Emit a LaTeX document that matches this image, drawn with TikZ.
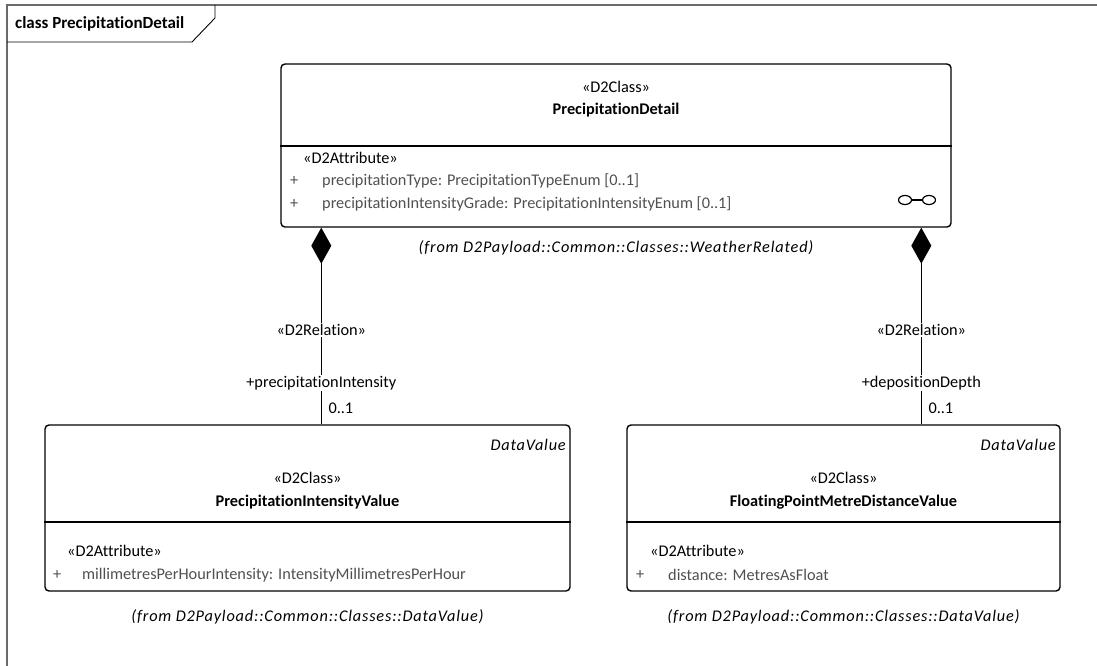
\documentclass[tikz,border=0pt]{standalone}
\usepackage{fontspec}
\setmainfont{Carlito}[Ligatures=NoCommon]
\usetikzlibrary{arrows.meta,calc}
\definecolor{attr}{HTML}{505050}
\definecolor{framec}{HTML}{6A6A6A}
\newcommand{\fs}{\fontsize{16.3}{19}\selectfont}
\tikzset{
  classbox/.style={draw, line width=1.4pt, rounded corners=4pt, inner sep=0pt},
  txt/.style={inner sep=0pt, font=\fs},
  bold/.style={txt, font=\fs\bfseries},
  ital/.style={txt, font=\fs\itshape\addfontfeature{LetterSpace=5}},
  gtxt/.style={txt, text=attr, anchor=west},
  comp/.style={line width=1.3pt, {Diamond[length=36pt,width=20pt]}-},
  lbl/.style={txt, fill=white, inner sep=1.5pt},
}
\begin{document}
\begin{tikzpicture}[x=1pt,y=-1pt]
\useasboundingbox (0,0) rectangle (1097,666);
% frame
\draw[framec, line width=1.8pt] (7,666) -- (7,5) -- (1097,5);
\draw[line width=0.9pt] (7,42) -- (192,42) -- (215,18) -- (215,5);
\node[bold, anchor=west, font=\fontsize{17}{19}\selectfont\bfseries] (ftitle) at (15,24) {class PrecipitationDetail};

% top class
\node[classbox, minimum width=670pt, minimum height=163pt] (pd) at (616,145.5) {};
\draw[line width=1.4pt] (pd.west |- 0,146) -- (pd.east |- 0,146);
\node[txt] (pds) at (616,87) {«D2Class»};
\node[bold] (pdn) at (616,110) {PrecipitationDetail};
\node[txt, anchor=west] (pda) at (303,158) {«D2Attribute»};
\node[gtxt] (pdp1) at (290,181) {+};
\node[gtxt] (pdt1) at (322,181) {precipitationType: PrecipitationTypeEnum [0..1]};
\node[gtxt] (pdp2) at (290,204) {+};
\node[gtxt] (pdt2) at (322,204) {precipitationIntensityGrade: PrecipitationIntensityEnum [0..1]};
\draw[line width=1.2pt] (905,200) ellipse (6.5pt and 4.5pt);
\draw[line width=1.2pt] (929,200) ellipse (6.5pt and 4.5pt);
\draw[line width=1.2pt] (911.5,200) -- (922.5,200);
\node[ital] (pdf) at (616,248) {(from D2Payload::Common::Classes::WeatherRelated)};

% bottom-left class
\node[classbox, minimum width=525pt, minimum height=166pt] (piv) at (307.5,508) {};
\draw[line width=1.4pt] (piv.west |- 0,522) -- (piv.east |- 0,522);
\node[ital, anchor=east] (pivdv) at (566,445) {DataValue};
\node[txt] (pivs) at (307.5,478) {«D2Class»};
\node[bold] (pivn) at (307.5,502) {PrecipitationIntensityValue};
\node[txt, anchor=west] (piva) at (67,551) {«D2Attribute»};
\node[gtxt] (pivp) at (53,575) {+};
\node[gtxt] (pivt) at (82,575) {millimetresPerHourIntensity: IntensityMillimetresPerHour};
\node[ital] (pivf) at (307.5,617) {(from D2Payload::Common::Classes::DataValue)};

% bottom-right class
\node[classbox, minimum width=433pt, minimum height=166pt] (fpm) at (843.5,508) {};
\draw[line width=1.4pt] (fpm.west |- 0,522) -- (fpm.east |- 0,522);
\node[ital, anchor=east] (fpmdv) at (1056,445) {DataValue};
\node[txt] (fpms) at (843.5,478) {«D2Class»};
\node[bold] (fpmn) at (843.5,502) {FloatingPointMetreDistanceValue};
\node[txt, anchor=west] (fpma) at (650,551) {«D2Attribute»};
\node[gtxt] (fpmp) at (636,575) {+};
\node[gtxt] (fpmt) at (668,575) {distance: MetresAsFloat};
\node[ital] (fpmf) at (843.5,617) {(from D2Payload::Common::Classes::DataValue)};

% connectors
\coordinate (c1) at ($(pd.south west)+(41,0)$);
\coordinate (c2) at ($(pd.south west)+(641,0)$);
\draw[comp] (c1) -- (c1 |- piv.north);
\draw[comp] (c2) -- (c2 |- fpm.north);
\node[lbl] (r1) at (c1 |- 0,330) {«D2Relation»};
\node[lbl] (e1) at (c1 |- 0,383) {+precipitationIntensity};
\node[txt, anchor=west] (m1) at ($(c1 |- 0,408)+(7,0)$) {0..1};
\node[lbl] (r2) at (c2 |- 0,330) {«D2Relation»};
\node[lbl] (e2) at (c2 |- 0,383) {+depositionDepth};
\node[txt, anchor=west] (m2) at ($(c2 |- 0,408)+(7,0)$) {0..1};
\end{tikzpicture}
\end{document}
